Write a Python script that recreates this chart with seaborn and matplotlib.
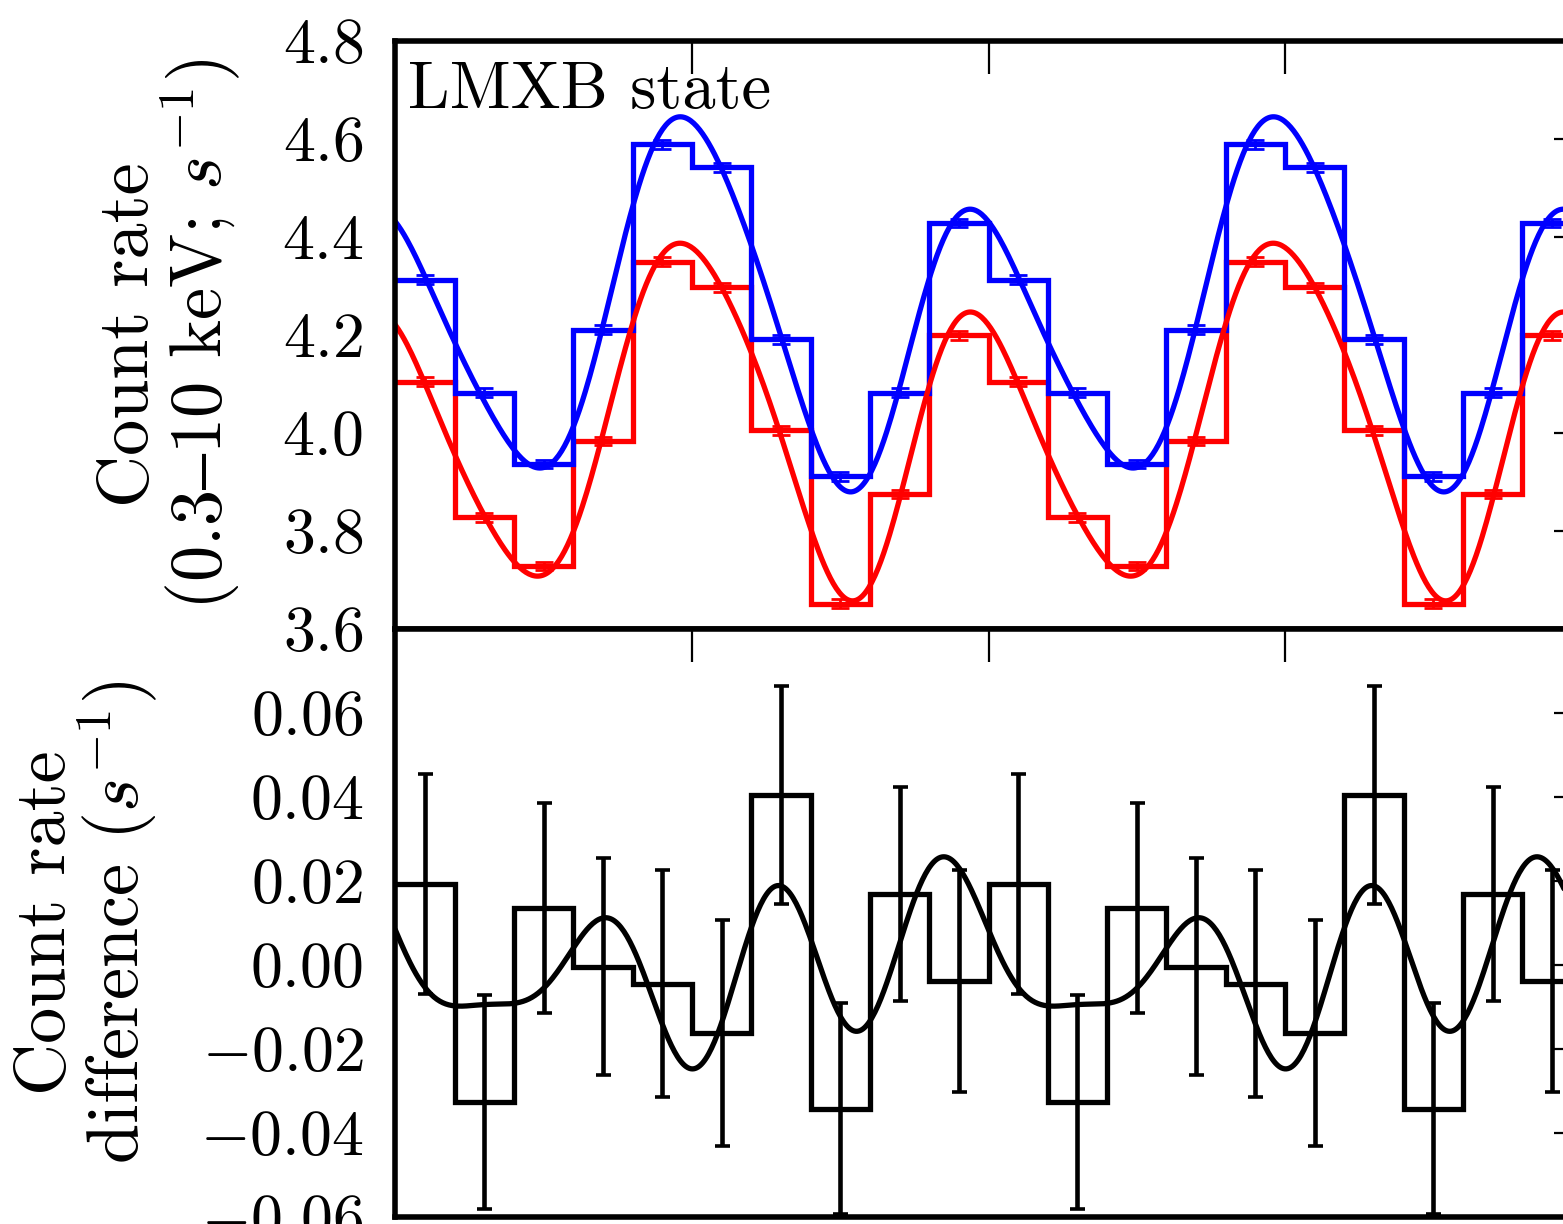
import numpy as np
import matplotlib
matplotlib.use("Agg")
import matplotlib.pyplot as plt
import seaborn as sns
from matplotlib.ticker import FuncFormatter

# ---------------- data ----------------
phase_edges = [0.0, 0.1, 0.2, 0.3, 0.4, 0.5, 0.6, 0.7, 0.8, 0.9, 1.0,
               1.1, 1.2, 1.3, 1.4, 1.5, 1.6, 1.7, 1.8, 1.9, 2.0]
phase_centers = [0.05, 0.15, 0.25, 0.35, 0.45, 0.55, 0.65, 0.75, 0.85, 0.95,
                 1.05, 1.15, 1.25, 1.35, 1.45, 1.55, 1.65, 1.75, 1.85, 1.95]

# one cycle of binned count rates (plotted twice)
blue_rate = [4.312, 4.082, 3.936, 4.210, 4.589, 4.542, 4.191, 3.911, 4.082, 4.428]
blue_err = [0.009, 0.009, 0.009, 0.009, 0.009, 0.009, 0.009, 0.009, 0.009, 0.009]
red_rate = [4.104, 3.827, 3.728, 3.983, 4.349, 4.297, 4.005, 3.651, 3.875, 4.199]
red_err = [0.009, 0.009, 0.009, 0.009, 0.009, 0.009, 0.009, 0.009, 0.009, 0.009]

diff_rate = [0.0192, -0.0326, 0.0135, -0.0005, -0.0045, -0.0163, 0.0404, -0.0342, 0.0169, -0.0039]
diff_err = [0.0262, 0.0254, 0.0250, 0.0258, 0.0270, 0.0269, 0.0259, 0.0250, 0.0254, 0.0264]

# points (one cycle)
blue_curve_phase = [0.005, 0.053, 0.101, 0.148, 0.196, 0.247, 0.297, 0.348, 0.398, 0.443, 0.480,
                    0.497, 0.547, 0.598, 0.649, 0.699, 0.744, 0.772, 0.800, 0.845, 0.896, 0.941, 0.972]
blue_curve_value = [4.428, 4.312, 4.176, 4.073, 3.971, 3.930, 3.999, 4.210, 4.455, 4.605, 4.639,
                    4.639, 4.550, 4.393, 4.196, 4.012, 3.910, 3.876, 3.903, 4.080, 4.298, 4.428, 4.455]
red_curve_phase = [0.005, 0.050, 0.098, 0.151, 0.196, 0.241, 0.292, 0.348, 0.398, 0.443, 0.477,
                   0.497, 0.547, 0.598, 0.643, 0.699, 0.744, 0.769, 0.800, 0.851, 0.901, 0.941, 0.966]
red_curve_value = [4.210, 4.107, 3.958, 3.828, 3.740, 3.713, 3.774, 3.985, 4.216, 4.353, 4.387,
                   4.383, 4.298, 4.175, 4.012, 3.821, 3.678, 3.644, 3.692, 3.876, 4.101, 4.210, 4.250]
diff_curve_phase = [0.003, 0.113, 0.2, 0.278, 0.348, 0.426, 0.495, 0.571, 0.645, 0.71, 0.774, 0.848, 0.919]
diff_curve_value = [0.008, -0.0106, -0.0082, -0.0015, 0.0113, -0.0044, -0.0253, -0.004, 0.0192,
                    0.0013, -0.0151, 0.0042, 0.0250]

top_yticks = [3.6, 3.8, 4.0, 4.2, 4.4, 4.6, 4.8]
bot_yticks = [-0.06, -0.04, -0.02, 0.00, 0.02, 0.04, 0.06]
xticks = [0.0, 0.5, 1.0, 1.5, 2.0]


def harmonic_model(ph, val, nharm, grid):
    ph = np.asarray(ph)
    cols = [np.ones_like(ph)]
    gcols = [np.ones_like(grid)]
    for k in range(1, nharm + 1):
        cols += [np.cos(2 * np.pi * k * ph), np.sin(2 * np.pi * k * ph)]
        gcols += [np.cos(2 * np.pi * k * grid), np.sin(2 * np.pi * k * grid)]
    coef, *_ = np.linalg.lstsq(np.column_stack(cols), np.asarray(val), rcond=None)
    return np.column_stack(gcols) @ coef


# ---------------- style ----------------
sns.set_style("white")
plt.rcParams["font.family"] = ["cmr10", "DejaVu Serif"]
plt.rcParams["mathtext.fontset"] = "cm"
plt.rcParams["axes.formatter.use_mathtext"] = True
plt.rcParams["axes.unicode_minus"] = True
for key in ["text.color", "axes.labelcolor", "xtick.color", "ytick.color", "axes.edgecolor"]:
    plt.rcParams[key] = "black"

W, H = 1563, 1224
fig = plt.figure(figsize=(W / 100, H / 100), dpi=100)
fig.patch.set_facecolor("white")

x_left, x_right = 395.3, 1581.7
top_y0, mid_y, bot_y1 = 40.9, 628.6, 1217.0
ax_top = fig.add_axes([x_left / W, 1 - mid_y / H, (x_right - x_left) / W, (mid_y - top_y0) / H])
ax_bot = fig.add_axes([x_left / W, 1 - bot_y1 / H, (x_right - x_left) / W, (bot_y1 - mid_y) / H])

grid = np.linspace(0, 2, 800)
edges = np.array(phase_edges)
centers = np.array(phase_centers)

step_lw = 3.8
curve_lw = 3.8

# top panel
for rate, err, cph, cval, col in [(red_rate, red_err, red_curve_phase, red_curve_value, "#ff0000"),
                                   (blue_rate, blue_err, blue_curve_phase, blue_curve_value, "#0000ff")]:
    r2 = np.tile(rate, 2)
    e2 = np.tile(err, 2)
    ax_top.stairs(r2, edges, color=col, lw=step_lw, baseline=None)
    ax_top.errorbar(centers, r2, yerr=e2, fmt="none", ecolor=col, elinewidth=2.0,
                    capsize=6.5, capthick=2.0)
    sns.lineplot(x=grid, y=harmonic_model(cph, cval, 4, grid), ax=ax_top, color=col,
                 lw=curve_lw, sort=False, estimator=None)

ax_top.set_xlim(0, 2)
ax_top.set_ylim(3.6, 4.8)
ax_top.set_yticks(top_yticks)
ax_top.yaxis.set_major_formatter(FuncFormatter(lambda v, p: r"$%.1f$" % v))
ax_top.text(0.0107, 0.886, "LMXB state", transform=ax_top.transAxes, fontsize=48,
            ha="left", va="baseline", color="black")
ax_top.set_ylabel("Count rate\n(0.3$\u2013$10 keV; $s^{-1}$)", fontsize=52, linespacing=0.96)
ax_top.yaxis.set_label_coords(-0.128, 0.5)

# bottom panel
d2 = np.tile(diff_rate, 2)
de2 = np.tile(diff_err, 2)
ax_bot.stairs(d2, edges, color="black", lw=step_lw, baseline=None)
ax_bot.errorbar(centers, d2, yerr=de2, fmt="none", ecolor="black", elinewidth=3.3,
                capsize=5.4, capthick=2.6)
sns.lineplot(x=grid, y=harmonic_model(diff_curve_phase, diff_curve_value, 4, grid), ax=ax_bot,
             color="black", lw=curve_lw, sort=False, estimator=None)
ax_bot.set_xlim(0, 2)
ax_bot.set_ylim(-0.06, 0.08)
ax_bot.set_yticks(bot_yticks)
ax_bot.yaxis.set_major_formatter(FuncFormatter(lambda v, p: r"$%.2f$" % v))
ax_bot.set_ylabel("Count rate\ndifference ($s^{-1}$)", fontsize=52, linespacing=0.96)
ax_bot.yaxis.set_label_coords(-0.198, 0.5)

for ax in (ax_top, ax_bot):
    ax.set_xticks(xticks)
    ax.tick_params(axis="both", which="major", direction="in", top=True, right=True,
                   labelbottom=False, labelsize=46, width=1.6, color="black",
                   labelcolor="black")
    ax.tick_params(axis="y", length=20, pad=23)
    ax.tick_params(axis="x", length=24)
    for s in ax.spines.values():
        s.set_linewidth(4.0)
        s.set_color("black")
        s.set_visible(True)
    ax.set_xlabel("")
    ax.set_facecolor("white")

fig.savefig("out.png", dpi=100)
